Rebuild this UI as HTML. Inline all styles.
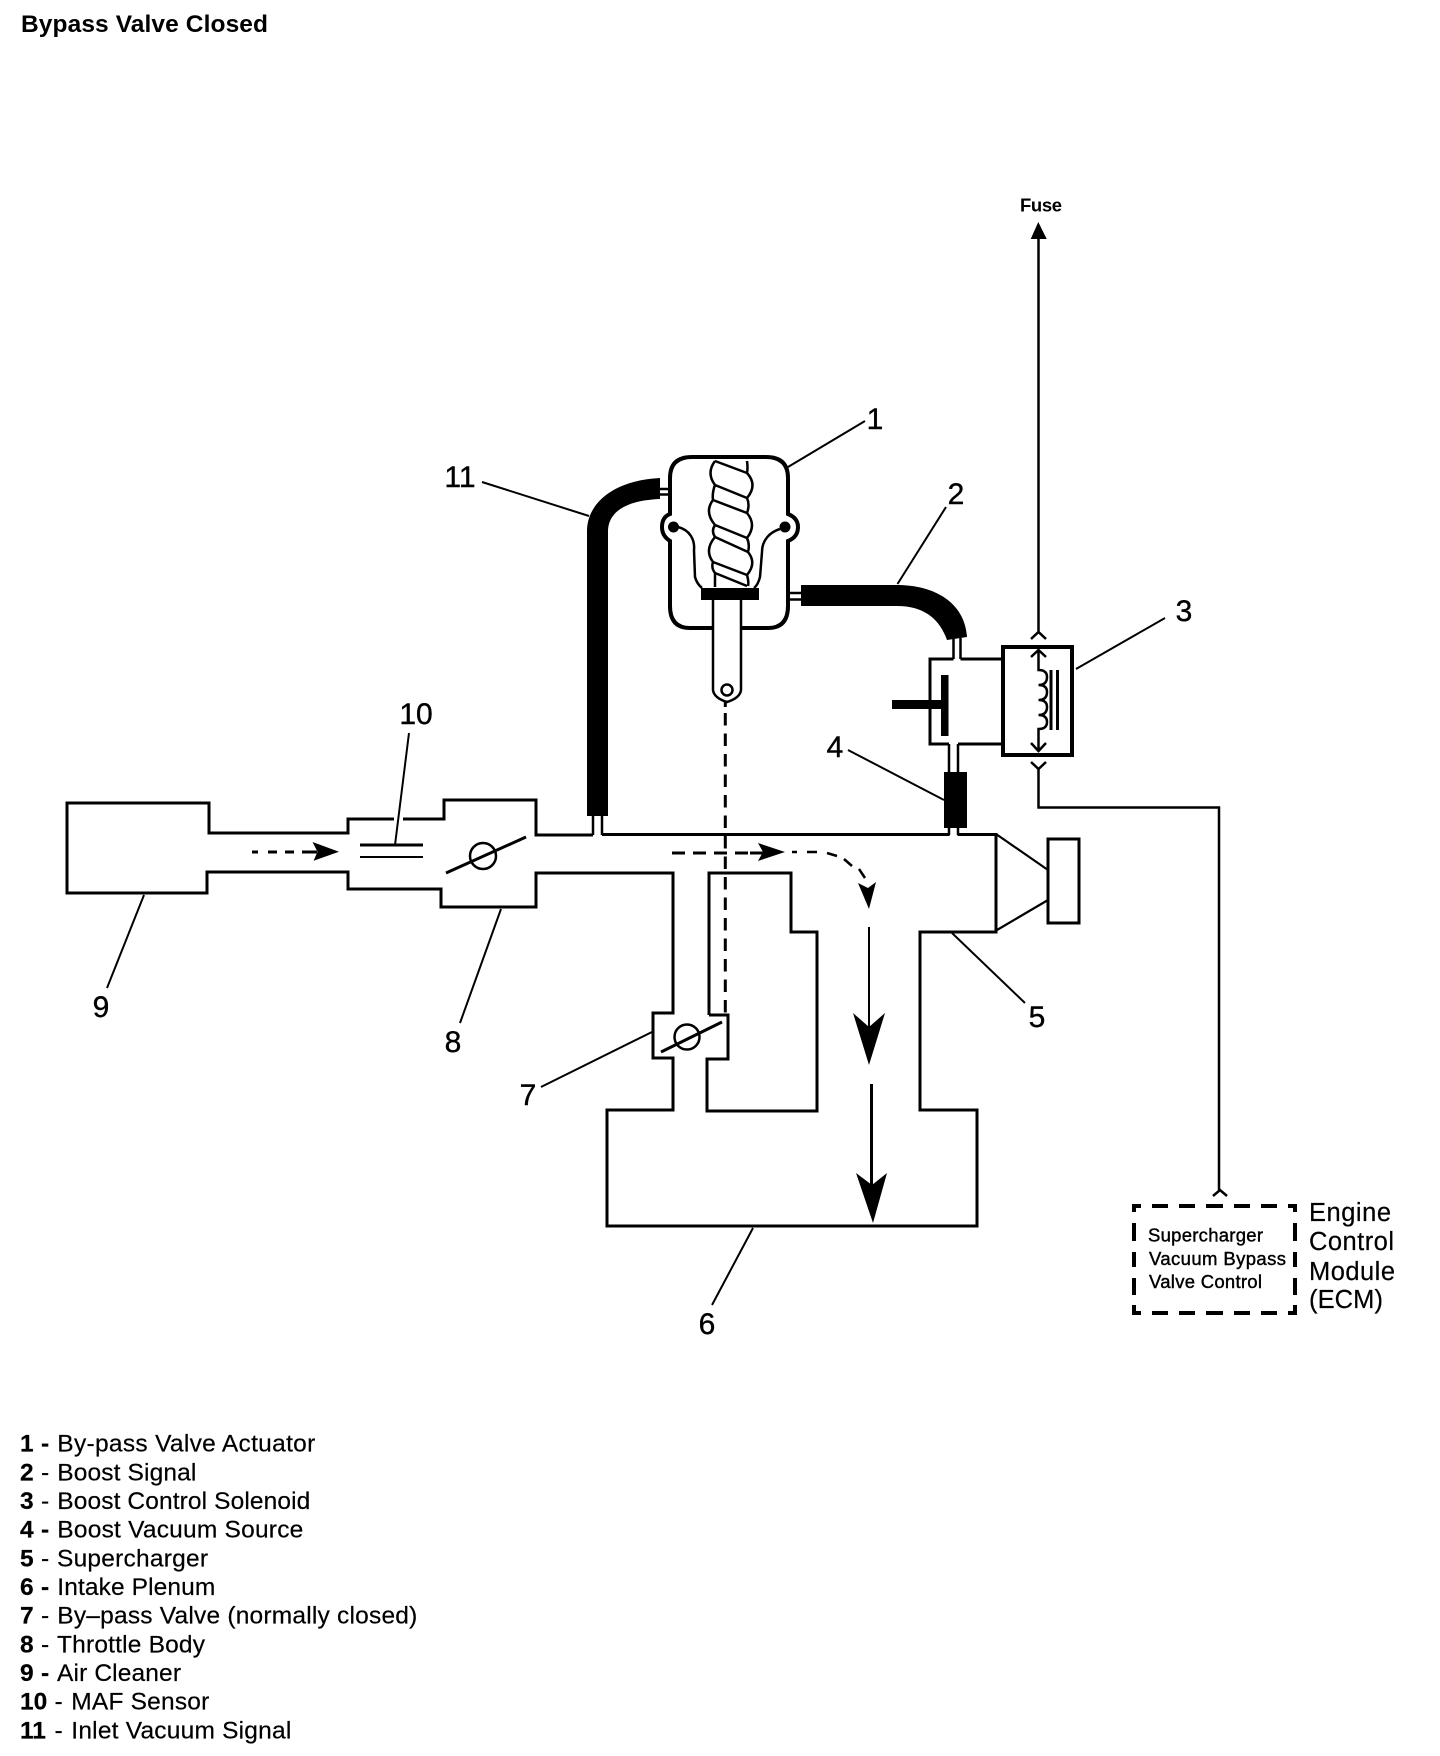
<!DOCTYPE html>
<html><head><meta charset="utf-8"><title>Bypass Valve Closed</title>
<style>html,body{margin:0;padding:0;background:#fff}svg{display:block}text{font-family:"Liberation Sans",sans-serif;fill:#000}.n{font-size:30px;stroke:#000;stroke-width:.4px}.l{font-size:24.5px;stroke:#000;stroke-width:.2px}.b{font-weight:bold}.e{font-size:25.5px;stroke:#000;stroke-width:.2px}.s{font-size:18.5px;stroke:#000;stroke-width:.4px}</style></head>
<body>
<svg width="1440" height="1756" viewBox="0 0 1440 1756" xmlns="http://www.w3.org/2000/svg">
<rect width="1440" height="1756" fill="#fff"/>
<text x="21" y="32" font-size="24.5" font-weight="bold" textLength="247">Bypass Valve Closed</text>

<g fill="none" stroke="#000" stroke-width="3" stroke-linejoin="miter">
<!-- main body -->
<path d="M593,835 H536 V800 H444 V819 H348 V833 H209 V803 H67 V893 H207 V872 H348 V889 H441 V907 H536 V873 H673 V1013 H653 V1058 H673 V1110 H607 V1226 H977 V1110 H920 V932 H996 V834.500 H957.500"/>
<path d="M602,834.500 H949.500"/>
<path d="M709,1015 V873 H791 V932 H817 V1111 H707 V1059 H728 V1015 H709"/>
<!-- supercharger -->
<path stroke-width="2.200" d="M996,834 L1048,870 M997,930 L1048,900"/>
<rect x="1048" y="839" width="31" height="84"/>
<!-- MAF + throttle -->
<path d="M360,845 H423"/>
<path d="M360,857 H423" stroke-width="2"/>
<ellipse cx="483" cy="856" rx="13" ry="13" stroke-width="2.500"/>
<path d="M446,873 L526,837"/>
<!-- bypass valve -->
<circle cx="687" cy="1037" r="12.500" stroke-width="2.500"/>
<path d="M661,1052 L722,1022"/>
<!-- leaders -->
<path stroke-width="2" d="M144,895 L107,988 M501,909 L460,1023 M652,1032 L541,1087 M952,933 L1025,1003 M753,1228 L712,1305 M788,467 L865,421 M897.500,584 L946,507 M1076,669 L1165,618 M848,750 L944,800 M482,482 L589,516"/>
<path d="M394,819 H403" stroke="#fff" stroke-width="5"/>
<path stroke-width="2" d="M395,845 L409,733"/>
<!-- stubs -->
<path stroke-width="2.500" d="M593,816 V835 M602,816 V835 M660,489 H670 M660,494.500 H670 M790,593 H801 M790,599.500 H801 M953.500,638 V659 M960.500,638 V659 M949,744 V772 M958,744 V772 M949,828 V835 M958,828 V835"/>
<!-- solenoid valve body -->
<path d="M1003,659 H960.500 M953.500,659 H930 V744 H949 M958,744 H1003"/>
<rect x="1003" y="647" width="69" height="108" stroke-width="4"/>
<!-- actuator housing -->
<path stroke-width="4" d="M713,628 H690 Q670,628 670,606 V541 Q662,536 662,527 Q662,517 670,514 V478 Q670,457 692,457 H766 Q788,457 788,478 V514 Q798,518 798,527 Q798,537 788,541 V606 Q788,628 768,628 H741"/>
<!-- diaphragm -->
<path stroke-width="2.500" d="M678,527 C690,530 695,540 694,550 L695,577 Q697,584 702,588 M780,529 C770,532 762,540 762,552 L760,577 Q758,585 754,588"/>
<!-- spring -->
<path stroke-width="2.500" d="M715,461 Q706,473 715,485 L715,485 Q712,493 713,500 Q704,512 715,525 Q711,531 715,537 Q704,550 713,562 Q711,568 715,573 V587 M747,461 Q748,468 747,473 Q758,485 747,498 Q750,505 747,513 Q757,525 747,538 Q750,545 748,552 Q757,563 747,575 Q749,582 748,586 M715,461 L747,473 M715,485 L747,498 M713,500 L747,513 M715,525 L747,538 M715,537 L748,552 M713,562 L747,575 M715,573 L747,586"/>
<!-- rod -->
<path stroke-width="2.500" d="M713,600 V690 Q714,698 727,702 Q740,698 741,690 V600"/>
<circle cx="727" cy="690" r="5.500" stroke-width="2.500"/>
<!-- rod dashed -->
<path d="M725.300,702 V707 M725.300,713 V1015" stroke-dasharray="12.500 8"/>
<!-- Fuse wire -->
<path d="M1038.500,236 V633" stroke-width="2.500"/>
<path d="M1031,639 L1038.500,632 L1046,639" stroke-width="2.500"/>
<!-- ECM wire -->
<path d="M1038.500,768 V807.500 H1219 V1190" stroke-width="2.500"/>
<path d="M1031,762 L1038.500,769 L1046,762 M1213,1196 L1220,1190 L1227,1196" stroke-width="2.500"/>
<!-- coil -->
<path stroke-width="2.500" d="M1031,657 L1038.500,650 L1046,657 M1038.500,650 V670 Q1047,670 1047,677 Q1047,685 1038.500,685 Q1047,685 1047,692 Q1047,700 1038.500,700 Q1047,700 1047,707 Q1047,715 1038.500,715 Q1047,715 1047,722 Q1047,729 1038.500,729 V751 M1031,743 L1038.500,751 L1046,743"/>
<path d="M1051,670 V730 M1057.500,670 V730"/>
<!-- flow dashed -->
<path d="M252,852 H258 M268,852 H277 M285,852 H294 M302,852 H317"/>
<path d="M672,853 H750 M750,853 H764" stroke-dasharray="13 8"/>
<path d="M750,853 H764"/>
<path d="M792,852 H797 M807,852 H817 M827,853 L837,856 M844,859 L852,866 M859,869 L865,878" stroke-width="2.500"/>
<path d="M869,927 V1030" stroke-width="2"/>
<path d="M871.500,1084 V1190"/>
</g>

<!-- filled -->
<g fill="#000" stroke="none">
<path d="M587,816 V530 C588,500 618,480 660,478 V499 C635,500 608,507 608,532 V816 Z"/>
<path d="M801,585 H897 C935,585 965,603 967,637 L947,640 C940,620 925,606 897,606 H801 Z"/>
<rect x="944" y="772" width="23" height="56"/>
<rect x="941" y="675" width="7.500" height="61"/>
<rect x="892" y="700" width="52" height="9"/>
<rect x="701" y="588" width="58" height="12"/>
<circle cx="673.500" cy="527" r="5.500"/>
<circle cx="785" cy="527" r="5.500"/>
<path d="M1038.300,222 L1046.700,239 H1030.700 Z"/>
<path d="M312.500,842 L339,851.700 L313.600,860.700 L317.500,851.700 Z"/>
<path d="M758,843 L785,852 L758,861 L763,852 Z"/>
<path d="M858,883 L869,909 L876,882 L868,888 Z"/>
<path d="M853,1013 L869,1065 L885,1013 L869,1027 Z"/>
<path d="M856,1173 L873,1223 L887,1173 L872,1185 Z"/>
<!-- ECM dashed box -->
<path d="M1132,1204 H1141 V1208 H1136 V1212 H1132 Z M1297,1204 H1288 V1208 H1293 V1212 H1297 Z M1132,1315 H1141 V1311 H1136 V1305 H1132 Z M1297,1315 H1288 V1311 H1293 V1305 H1297 Z"/>
<rect x="1152" y="1204" width="16" height="4"/><rect x="1179" y="1204" width="16" height="4"/><rect x="1206" y="1204" width="17" height="4"/><rect x="1234" y="1204" width="16" height="4"/><rect x="1261" y="1204" width="16" height="4"/>
<rect x="1152" y="1311" width="16" height="4"/><rect x="1179" y="1311" width="16" height="4"/><rect x="1206" y="1311" width="17" height="4"/><rect x="1234" y="1311" width="16" height="4"/><rect x="1261" y="1311" width="16" height="4"/>
<rect x="1132" y="1223" width="4" height="18"/><rect x="1132" y="1252" width="4" height="15"/><rect x="1132" y="1278" width="4" height="17"/>
<rect x="1293" y="1223" width="4" height="18"/><rect x="1293" y="1252" width="4" height="15"/><rect x="1293" y="1278" width="4" height="17"/>
</g>

<!-- callouts -->
<g text-anchor="middle" class="n">
<text class="n" x="875" y="429">1</text>
<text class="n" x="956" y="504">2</text>
<text class="n" x="1184" y="621">3</text>
<text class="n" x="835" y="757">4</text>
<text class="n" x="1037" y="1027">5</text>
<text class="n" x="707" y="1334">6</text>
<text class="n" x="528" y="1105">7</text>
<text class="n" x="453" y="1052">8</text>
<text class="n" x="101" y="1017">9</text>
<text class="n" x="416" y="724">10</text>
<text class="n" x="460" y="487">11</text>
</g>

<text x="1020" y="211.500" font-size="18.500" font-weight="bold" textLength="42">Fuse</text>
<text class="s" x="1148" y="1241.500" textLength="115">Supercharger</text>
<text class="s" x="1149" y="1265" textLength="137">Vacuum Bypass</text>
<text class="s" x="1149" y="1288" textLength="113">Valve Control</text>
<text class="e" x="1309" y="1221" textLength="82">Engine</text>
<text class="e" x="1309" y="1250" textLength="85">Control</text>
<text class="e" x="1309" y="1280" textLength="86">Module</text>
<text class="e" x="1309" y="1308" textLength="74">(ECM)</text>

<!-- legend -->
<text class="l b" x="20" y="1451.700">1</text><text class="l b" x="41" y="1451.700">-</text><text class="l" x="57.300" y="1451.700" textLength="258">By-pass Valve Actuator</text>
<text class="l b" x="20" y="1480.300">2</text><text class="l" x="41" y="1480.300">-</text><text class="l" x="57.300" y="1480.300" textLength="139">Boost Signal</text>
<text class="l b" x="20" y="1509">3</text><text class="l" x="41" y="1509">-</text><text class="l" x="57.300" y="1509" textLength="253">Boost Control Solenoid</text>
<text class="l b" x="20" y="1537.600">4</text><text class="l b" x="41" y="1537.600">-</text><text class="l" x="57.300" y="1537.600" textLength="246">Boost Vacuum Source</text>
<text class="l b" x="20" y="1566.300">5</text><text class="l" x="41" y="1566.300">-</text><text class="l" x="57" y="1566.300" textLength="151">Supercharger</text>
<text class="l b" x="20" y="1595">6</text><text class="l b" x="41" y="1595">-</text><text class="l" x="57.300" y="1595" textLength="158">Intake Plenum</text>
<text class="l b" x="20" y="1623.600">7</text><text class="l" x="41" y="1623.600">-</text><text class="l" x="57.300" y="1623.600" textLength="360">By–pass Valve (normally closed)</text>
<text class="l b" x="20" y="1652.300">8</text><text class="l" x="41" y="1652.300">-</text><text class="l" x="57" y="1652.300" textLength="148">Throttle Body</text>
<text class="l b" x="20" y="1681">9</text><text class="l b" x="41" y="1681">-</text><text class="l" x="57" y="1681" textLength="124">Air Cleaner</text>
<text class="l b" x="20" y="1709.600">10</text><text class="l" x="54.500" y="1709.600">-</text><text class="l" x="71.300" y="1709.600" textLength="138">MAF Sensor</text>
<text class="l b" x="20" y="1738.300">11</text><text class="l" x="54.500" y="1738.300">-</text><text class="l" x="71.300" y="1738.300" textLength="220">Inlet Vacuum Signal</text>
</svg>
</body></html>
